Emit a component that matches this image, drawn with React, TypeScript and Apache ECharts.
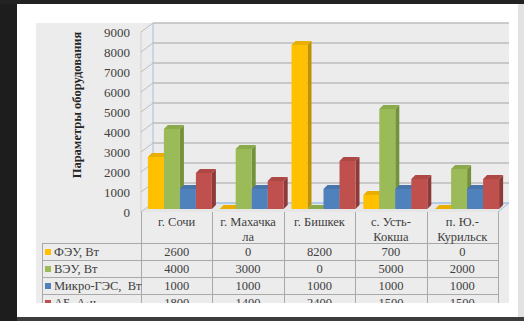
import React, { useEffect, useRef } from "react";
import * as echarts from "echarts";

const categories = ["г. Сочи", "г. Махачкала", "г. Бишкек", "с. Усть-Кокша", "п. Ю.-Курильск"];
const categoryLabels = ["г. Сочи", "г. Махачка\nла", "г. Бишкек", "с. Усть-\nКокша", "п. Ю.-\nКурильск"];
const seriesNames = ["ФЭУ, Вт", "ВЭУ, Вт", "Микро-ГЭС,  Вт", "АБ, А·ч"];
const feuValues = [2600, 0, 8200, 700, 0];
const veuValues = [4000, 3000, 0, 5000, 2000];
const microGesValues = [1000, 1000, 1000, 1000, 1000];
const abValues = [1800, 1400, 2400, 1500, 1500];
const yTicks = [0, 1000, 2000, 3000, 4000, 5000, 6000, 7000, 8000, 9000];
const axisTitle = "Параметры оборудования";

const allValues = [feuValues, veuValues, microGesValues, abValues];

const barColors = [
  { front: "#FFC000", side: "#BF9000", top: "#E9AF00" },
  { front: "#9BBB59", side: "#74913B", top: "#8AAA4C" },
  { front: "#4F81BD", side: "#39628F", top: "#4674AB" },
  { front: "#C0504D", side: "#8D3A38", top: "#AE4845" },
];

const FONT = "serif";
const TEXT = "#404040";
const GRID_LINE = "#bdbdbd";
const BLUE_LINE = "#9fc0e4";

const TABLE_LEFT = 42;
const COL_X0 = 141;
const COL_W = 71.4;
const ROW_TOP = 243;
const ROW_H = 17;

function buildTableGraphics(): any[] {
  const els: any[] = [];
  const right = COL_X0 + COL_W * categories.length;
  for (let k = 0; k <= categories.length; k++) {
    const x = Math.round(COL_X0 + COL_W * k) + 0.5;
    els.push({
      type: "line",
      z: 5,
      shape: { x1: x, y1: 212, x2: x, y2: 321 },
      style: { stroke: "#a9a9a9", lineWidth: 1 },
    });
  }
  els.push({
    type: "line",
    z: 5,
    shape: { x1: TABLE_LEFT + 0.5, y1: ROW_TOP, x2: TABLE_LEFT + 0.5, y2: 321 },
    style: { stroke: "#a9a9a9", lineWidth: 1 },
  });
  for (let r = 0; r <= seriesNames.length; r++) {
    const y = ROW_TOP + ROW_H * r + 0.5;
    els.push({
      type: "line",
      z: 5,
      shape: { x1: TABLE_LEFT, y1: y, x2: right, y2: y },
      style: { stroke: "#a9a9a9", lineWidth: 1 },
    });
  }
  seriesNames.forEach((name, r) => {
    const cy = ROW_TOP + ROW_H * r + ROW_H / 2 + 0.5;
    els.push({
      type: "rect",
      z: 6,
      shape: { x: 45, y: cy - 3, width: 6, height: 6 },
      style: { fill: barColors[r].front },
    });
    els.push({
      type: "text",
      z: 6,
      x: 54,
      y: cy,
      style: {
        text: name,
        fill: TEXT,
        fontFamily: FONT,
        fontSize: 12.5,
        align: "left",
        verticalAlign: "middle",
      },
    });
    allValues[r].forEach((v, k) => {
      els.push({
        type: "text",
        z: 6,
        x: COL_X0 + COL_W * (k + 0.5),
        y: cy,
        style: {
          text: String(v),
          fill: TEXT,
          fontFamily: FONT,
          fontSize: 12.5,
          align: "center",
          verticalAlign: "middle",
        },
      });
    });
  });
  return els;
}

function makeBarSeries(idx: number) {
  return {
    type: "custom",
    name: seriesNames[idx],
    coordinateSystem: "cartesian2d",
    xAxisIndex: 0,
    yAxisIndex: 0,
    z: 10,
    clip: false,
    data: allValues[idx].map((v, i) => [i, v]),
    encode: { x: 0, y: 1 },
    renderItem: (params: any, api: any) => {
      const cat = api.value(0);
      const v = api.value(1);
      const top = api.coord([cat, v]);
      const base = api.coord([cat, 0]);
      const band = api.size([1, 0])[0];
      const w = band * 0.2228;
      const x0 = top[0] - 2 * w + idx * w;
      const yT = top[1];
      const yB = base[1];
      const dx = 4;
      const dy = -4;
      const c = barColors[idx];
      return {
        type: "group",
        children: [
          {
            type: "polygon",
            shape: {
              points: [
                [x0 + w, yT],
                [x0 + w + dx, yT + dy],
                [x0 + w + dx, yB + dy],
                [x0 + w, yB],
              ],
            },
            style: { fill: c.side },
          },
          {
            type: "rect",
            shape: { x: x0, y: yT, width: w, height: yB - yT },
            style: { fill: c.front },
          },
          {
            type: "polygon",
            shape: {
              points: [
                [x0, yT],
                [x0 + dx, yT + dy],
                [x0 + w + dx, yT + dy],
                [x0 + w, yT],
              ],
            },
            style: { fill: c.top },
          },
        ],
      };
    },
  };
}

const wallSeries = {
  type: "custom",
  coordinateSystem: "cartesian2d",
  xAxisIndex: 0,
  yAxisIndex: 0,
  z: 4,
  clip: false,
  silent: true,
  data: yTicks.map((v) => [0, v]),
  encode: { x: 0, y: 1 },
  renderItem: (params: any, api: any) => {
    const cs = params.coordSys;
    const v = api.value(1);
    const p = api.coord([0, v]);
    const y = p[1];
    const left = cs.x;
    const right = cs.x + cs.width;
    const children: any[] = [];
    if (v === 0) {
      const topY = api.coord([0, yTicks[yTicks.length - 1]])[1];
      children.push(
        {
          type: "polygon",
          shape: {
            points: [
              [left - 3, y + 3],
              [left + 9, y - 6],
              [right + 6, y - 6],
              [right - 5, y + 3],
            ],
          },
          style: { fill: "#e6e6e6" },
        },
        {
          type: "line",
          shape: { x1: left + 9, y1: y - 6, x2: left + 9, y2: topY - 6 },
          style: { stroke: BLUE_LINE, lineWidth: 1 },
        },
        {
          type: "line",
          shape: { x1: left - 3, y1: y + 3, x2: left - 3, y2: topY + 3 },
          style: { stroke: "#cfcfcf", lineWidth: 1 },
        },
        {
          type: "line",
          shape: { x1: right - 5, y1: y + 3, x2: right + 6, y2: y - 6 },
          style: { stroke: BLUE_LINE, lineWidth: 1 },
        }
      );
    }
    children.push(
      {
        type: "line",
        shape: { x1: left - 3, y1: y + 3, x2: left + 9, y2: y - 6 },
        style: { stroke: GRID_LINE, lineWidth: 1 },
      },
      {
        type: "line",
        shape: { x1: left + 9, y1: y - 6, x2: right + 6, y2: y - 6 },
        style: { stroke: v === 0 ? BLUE_LINE : GRID_LINE, lineWidth: 1.3 },
      }
    );
    return { type: "group", children };
  },
};

export default function App() {
  const ref = useRef<HTMLDivElement>(null);
  useEffect(() => {
    if (!ref.current) return;
    const chart = echarts.init(ref.current, undefined, { renderer: "svg" });
    const option: any = {
      animation: false,
      backgroundColor: "#1d1d1d",
      textStyle: { fontFamily: FONT },
      grid: [
        { left: 144, right: 21, top: 29, bottom: 112, containLabel: false },
        { left: 141, right: 26, top: 32, bottom: 109, containLabel: false },
      ],
      xAxis: [
        {
          gridIndex: 0,
          type: "category",
          data: categories,
          show: false,
        },
        {
          gridIndex: 1,
          type: "category",
          data: categoryLabels,
          z: 20,
          axisLine: { show: false },
          axisTick: { show: false },
          splitLine: { show: false },
          axisLabel: {
            interval: 0,
            color: TEXT,
            fontFamily: FONT,
            fontSize: 12.5,
            lineHeight: 14.5,
            margin: 3,
          },
        },
      ],
      yAxis: [
        {
          gridIndex: 0,
          type: "value",
          min: 0,
          max: 9000,
          interval: 1000,
          show: false,
        },
        {
          gridIndex: 1,
          type: "value",
          min: 0,
          max: 9000,
          interval: 1000,
          z: 20,
          axisLine: { show: false },
          axisTick: { show: false },
          splitLine: { show: false },
          axisLabel: {
            color: TEXT,
            fontFamily: FONT,
            fontSize: 13,
            margin: 11,
            formatter: (v: number) => String(v),
          },
        },
      ],
      graphic: [
        { type: "rect", z: 0, shape: { x: 0, y: 0, width: 524, height: 4 }, style: { fill: "#222222" } },
        { type: "rect", z: 0, shape: { x: 518, y: 4, width: 6, height: 313 }, style: { fill: "#e2e2e2" } },
        { type: "rect", z: 1, shape: { x: 17, y: 4, width: 501, height: 313 }, style: { fill: "#ffffff" } },
        { type: "rect", z: 1, shape: { x: 36, y: 23, width: 473, height: 280 }, style: { fill: "#ececec" } },
        {
          type: "text",
          z: 20,
          x: 77,
          y: 105,
          rotation: Math.PI / 2,
          style: {
            text: axisTitle,
            fill: "#262626",
            fontFamily: FONT,
            fontSize: 12.5,
            fontWeight: "bold",
            align: "center",
            verticalAlign: "middle",
          },
        },
        ...buildTableGraphics(),
        { type: "rect", z: 50, shape: { x: 17, y: 303, width: 501, height: 14 }, style: { fill: "#ffffff" } },
        { type: "rect", z: 51, shape: { x: 17, y: 317, width: 507, height: 4 }, style: { fill: "#3c3c3c" } },
      ],
      series: [wallSeries, makeBarSeries(0), makeBarSeries(1), makeBarSeries(2), makeBarSeries(3)],
    };
    chart.setOption(option);
    return () => chart.dispose();
  }, []);
  return (
    <div
      ref={ref}
      style={{ position: "fixed", left: 0, top: 0, width: 524, height: 321 }}
    />
  );
}
